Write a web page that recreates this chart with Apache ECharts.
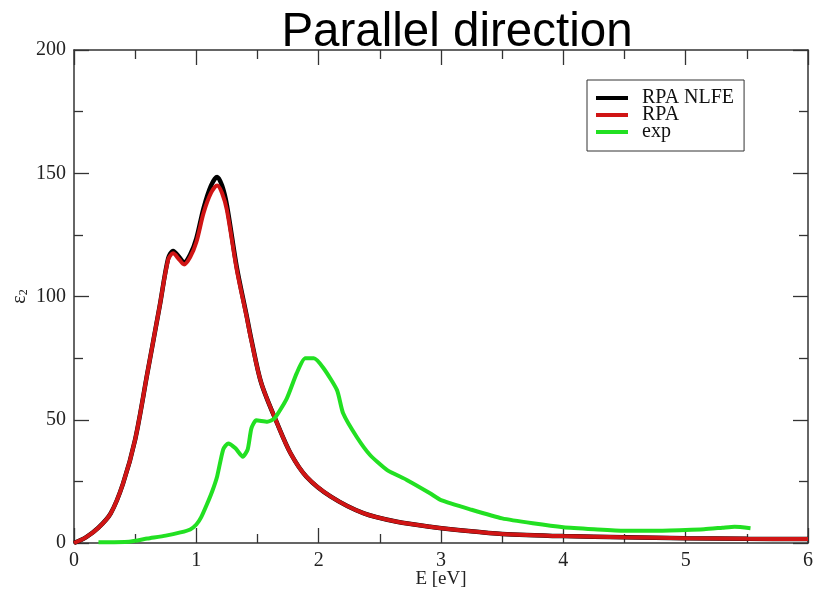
<!DOCTYPE html>
<html>
<head>
<meta charset="utf-8">
<script src="https://cdn.jsdelivr.net/npm/echarts@6/dist/echarts.min.js"></script>
<style>
  html, body { margin: 0; padding: 0; background: #fff; }
  #chart { width: 813px; height: 592px; }
</style>
</head>
<body>
<div id="chart"></div>
<script>
// energy grid of the RPA curves (eV)
var rpaE = [0, 0.1, 0.2, 0.3, 0.4, 0.5, 0.6, 0.7, 0.77, 0.81, 0.86, 0.9, 0.95, 1.0, 1.06, 1.12, 1.17, 1.21, 1.25, 1.33, 1.41, 1.45, 1.53, 1.66, 1.77, 1.9, 2.1, 2.37, 2.64, 2.91, 3.2, 3.5, 4.0, 4.5, 5.0, 5.5, 6.0]
var rpaVal = [0, 2.4, 6.2, 12, 24, 42, 69, 96, 115, 117.5, 115, 113, 116, 122, 134, 142, 145, 142, 135, 111, 92, 82, 65, 48.6, 36.4, 26.9, 18.8, 12.0, 8.6, 6.6, 5.0, 3.7, 2.8, 2.3, 1.9, 1.7, 1.6]
var nlfeVal = [0, 2.4, 6.2, 12, 24, 42, 69, 96, 115.5, 118.5, 116, 113.8, 117, 123.5, 136, 145, 148.5, 145, 137, 112, 92.5, 82.5, 65, 48.6, 36.4, 26.9, 18.8, 12.0, 8.6, 6.6, 5.0, 3.7, 2.8, 2.3, 1.9, 1.7, 1.6]
// experiment
var expE = [0.2, 0.45, 0.6, 0.75, 0.87, 0.95, 1.0, 1.04, 1.085, 1.13, 1.17, 1.22, 1.26, 1.32, 1.38, 1.42, 1.45, 1.49, 1.58, 1.64, 1.74, 1.82, 1.89, 1.96, 2.04, 2.15, 2.2, 2.31, 2.42, 2.56, 2.72, 2.91, 3.0, 3.25, 3.5, 3.75, 4.0, 4.25, 4.5, 4.75, 5.0, 5.15, 5.3, 5.4, 5.53]
var expVal = [0.3, 0.5, 1.8, 3.0, 4.3, 5.5, 7.5, 10.5, 15.5, 21, 27, 38, 40.4, 38.4, 35, 38, 46.5, 49.8, 49.2, 50.6, 58.7, 68.8, 74.9, 74.9, 70.9, 62, 52.6, 43.1, 35.7, 29.6, 25.6, 20.2, 17.4, 13.5, 10, 8, 6.4, 5.6, 5.0, 5.0, 5.3, 5.6, 6.2, 6.6, 6.0]

var seriesNames = ['RPA NLFE', 'RPA', 'exp']
var xTicks = { min: 0, max: 6, interval: 1 }
var yTicks = { min: 0, max: 200, interval: 50 }

function pairs(xs, ys) {
  var out = []
  for (var i = 0; i < xs.length; i++) out.push([xs[i], ys[i]])
  return out
}

var axisColor = '#333'
var serif = '"Liberation Serif", "DejaVu Serif", serif'

// every side of the frame is an axis with inward ticks
function frameAxis(extra) {
  var base = {
    type: 'value',
    axisLine: { show: true, onZero: false, lineStyle: { color: axisColor, width: 1.5 } },
    axisTick: { show: true, inside: true, length: 15, lineStyle: { color: axisColor, width: 1.3 } },
    minorTick: { show: true, splitNumber: 2, length: 9, lineStyle: { color: axisColor, width: 1.3 } },
    splitLine: { show: false },
    axisLabel: { show: false },
  }
  for (var k in extra) base[k] = extra[k]
  return base
}

var myChart = echarts.init(document.getElementById('chart'))
var options = {
  backgroundColor: '#fff',
  animation: false,
  title: {
    text: 'Parallel direction',
    left: 452,
    textAlign: 'center',
    top: 4,
    textStyle: { fontFamily: '"Liberation Sans", Arial, sans-serif', fontWeight: 'normal', fontSize: 47.5, color: '#000' },
  },
  grid: { left: 74, right: 5, top: 50, bottom: 49, containLabel: false, outerBoundsMode: 'none' },
  legend: {
    orient: 'vertical',
    left: 587,
    top: 80,
    data: seriesNames,
    icon: 'rect',
    itemWidth: 32,
    itemHeight: 4,
    itemGap: -3,
    padding: [8, 10, 9, 9],
    borderColor: '#333',
    borderWidth: 1,
    backgroundColor: '#fff',
    textStyle: { fontFamily: serif, fontSize: 20, lineHeight: 17, color: '#111', padding: [0, 0, 0, 9] },
  },
  xAxis: [
    frameAxis({
      min: xTicks.min, max: xTicks.max, interval: xTicks.interval,
      position: 'bottom',
      name: 'E [eV]',
      nameLocation: 'middle',
      nameGap: 27,
      nameMoveOverlap: false,
      nameTextStyle: { fontFamily: serif, fontSize: 19, color: '#222' },
      axisLabel: { show: true, margin: 8, fontFamily: serif, fontSize: 20, color: '#222' },
    }),
    frameAxis({ min: xTicks.min, max: xTicks.max, interval: xTicks.interval, position: 'top' }),
  ],
  yAxis: [
    frameAxis({
      min: yTicks.min, max: yTicks.max, interval: yTicks.interval,
      position: 'left',
      name: 'ε{sub|2}',
      nameLocation: 'middle',
      nameRotate: 90,
      nameGap: 44,
      nameMoveOverlap: false,
      nameTextStyle: { fontFamily: serif, fontSize: 20, color: '#222', rich: { sub: { fontFamily: serif, fontSize: 12, color: '#222', verticalAlign: 'bottom', padding: [8, 0, 0, 0] } } },
      axisLabel: { show: true, margin: 8, fontFamily: serif, fontSize: 20, color: '#222' },
    }),
    frameAxis({ min: yTicks.min, max: yTicks.max, interval: yTicks.interval, position: 'right' }),
  ],
  series: [
    {
      name: seriesNames[0],
      type: 'line',
      data: pairs(rpaE, nlfeVal),
      showSymbol: false,
      smooth: 0.3,
      color: '#000',
      lineStyle: { color: '#000', width: 4.5 },
      z: 2,
    },
    {
      name: seriesNames[1],
      type: 'line',
      data: pairs(rpaE, rpaVal),
      showSymbol: false,
      smooth: 0.3,
      color: '#d01515',
      lineStyle: { color: '#d01515', width: 4 },
      z: 3,
    },
    {
      name: seriesNames[2],
      type: 'line',
      data: pairs(expE, expVal),
      showSymbol: false,
      smooth: 0.2,
      color: '#22e022',
      lineStyle: { color: '#22e022', width: 4 },
      z: 4,
    },
  ],
}
myChart.setOption(options)
</script>
</body>
</html>
